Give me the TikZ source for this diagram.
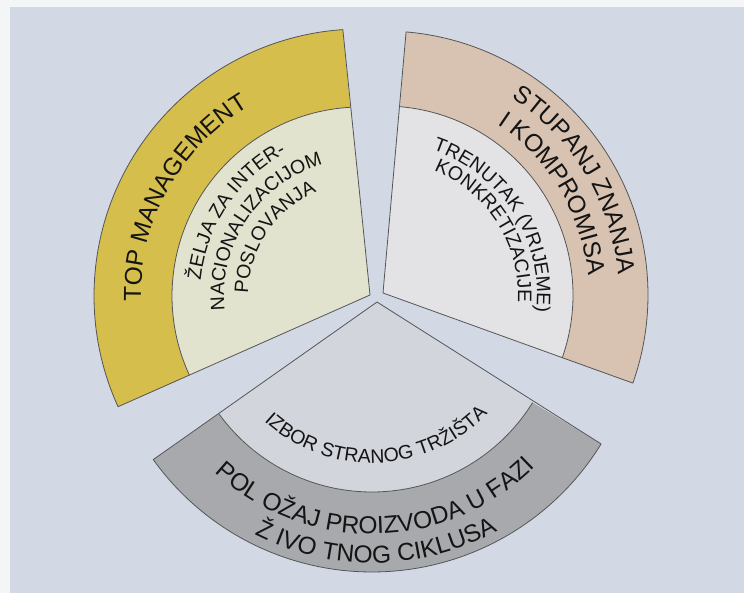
\documentclass[tikz,border=0pt]{standalone}
\usepackage{fontspec}
\setmainfont{Liberation Sans}
\usetikzlibrary{calc,decorations.text}
\definecolor{bgc}{HTML}{D2D9E5}
\definecolor{yband}{HTML}{D5BE4C}
\definecolor{yin}{HTML}{E2E3CE}
\definecolor{bband}{HTML}{D8C3B2}
\definecolor{bin}{HTML}{E3E3E6}
\definecolor{gband}{HTML}{A7A9AD}
\definecolor{gin}{HTML}{D2D5DC}
\definecolor{edgec}{HTML}{555555}
\definecolor{txtc}{HTML}{141414}
\definecolor{stripc}{HTML}{F4F5F7}
\begin{document}
\begin{tikzpicture}[x=1pt,y=1pt,
  outl/.style={draw=edgec,line width=0.8pt,line join=round},
  bandtxt/.style={decorate,decoration={text along path,text align=center,text color=txtc,
     text={|\fontsize{24.5}{29}\selectfont|#1}}},
  innertxt/.style={decorate,decoration={text along path,text align=center,text color=txtc,
     text={|\fontsize{19.5}{23}\selectfont|#1}}}]
\fill[bgc] (0,0) rectangle (744,593);
\fill[stripc] (0,0) rectangle (10,593);
\fill[stripc] (0,586) rectangle (744,593);
\useasboundingbox (0,0) rectangle (744,593);
\coordinate (O1) at (361,297);
\coordinate (A1) at (370,298);
\coordinate (O2) at (384,298);
\coordinate (A2) at (383,300);
\coordinate (O3) at (372,290);
\coordinate (A3) at (377,291);
% yellow sector
\fill[yband] ($(O1)+(93.9:267pt)$) arc[start angle=93.9,end angle=204.5,radius=267pt]
   -- ($(O1)+(204.8:189pt)$) arc[start angle=204.8,end angle=93.3,radius=189pt] -- cycle;
\fill[yin] (A1) -- ($(O1)+(204.8:189pt)$) arc[start angle=204.8,end angle=93.3,radius=189pt] -- cycle;
\draw[outl] (A1) -- ($(O1)+(93.9:267pt)$) arc[start angle=93.9,end angle=204.5,radius=267pt] -- cycle;
\draw[outl] ($(O1)+(204.8:189pt)$) arc[start angle=204.8,end angle=93.3,radius=189pt];
% beige sector
\fill[bband] ($(O2)+(85.2:264pt)$) arc[start angle=85.2,end angle=-19.5,radius=264pt]
   -- ($(O2)+(-19.4:189pt)$) arc[start angle=-19.4,end angle=85.1,radius=189pt] -- cycle;
\fill[bin] (A2) -- ($(O2)+(-19.4:189pt)$) arc[start angle=-19.4,end angle=85.1,radius=189pt] -- cycle;
\draw[outl] (A2) -- ($(O2)+(85.2:264pt)$) arc[start angle=85.2,end angle=-19.5,radius=264pt] -- cycle;
\draw[outl] ($(O2)+(-19.4:189pt)$) arc[start angle=-19.4,end angle=85.1,radius=189pt];
% gray sector
\fill[gband] ($(O3)+(215.6:269pt)$) arc[start angle=215.6,end angle=328.4,radius=269pt]
   -- ($(O3)+(328.2:189pt)$) arc[start angle=328.2,end angle=215.9,radius=189pt] -- cycle;
\fill[gin] (A3) -- ($(O3)+(215.9:189pt)$) arc[start angle=215.9,end angle=328.2,radius=189pt] -- cycle;
\draw[outl] (A3) -- ($(O3)+(215.6:269pt)$) arc[start angle=215.6,end angle=328.4,radius=269pt] -- cycle;
\draw[outl] ($(O3)+(215.9:189pt)$) arc[start angle=215.9,end angle=328.2,radius=189pt];
% texts yellow
\path[bandtxt={TOP MANAGEMENT}] ($(O1)+(206:220pt)$) arc[start angle=206,end angle=96,radius=220pt];
\path[innertxt={ŽELJA ZA INTER-}] ($(O1)+(201:161pt)$) arc[start angle=201,end angle=91,radius=161pt];
\path[innertxt={NACIONALIZACIJOM}] ($(O1)+(201:137pt)$) arc[start angle=201,end angle=91,radius=137pt];
\path[innertxt={POSLOVANJA}] ($(O1)+(201:113pt)$) arc[start angle=201,end angle=91,radius=113pt];
% texts beige
\path[bandtxt={STUPANJ ZNANJA}] ($(O2)+(86:235pt)$) arc[start angle=86,end angle=-24,radius=235pt];
\path[bandtxt={I KOMPROMISA}] ($(O2)+(86:205pt)$) arc[start angle=86,end angle=-24,radius=205pt];
\path[innertxt={TRENUTAK (VRIJEME)}] ($(O2)+(87.5:153pt)$) arc[start angle=87.5,end angle=-22.5,radius=153pt];
\path[innertxt={KONKRETIZACIJE}] ($(O2)+(87.5:134pt)$) arc[start angle=87.5,end angle=-22.5,radius=134pt];
% texts gray
\path[innertxt={IZBOR STRANOG TRŽIŠTA}] ($(O3)+(217:160pt)$) arc[start angle=217,end angle=327,radius=160pt];
\path[bandtxt={POL OŽAJ PROIZVODA U FAZI}] ($(O3)+(216:231pt)$) arc[start angle=216,end angle=326,radius=231pt];
\path[bandtxt={Ž IVO TNOG CIKLUSA}] ($(O3)+(216:260pt)$) arc[start angle=216,end angle=326,radius=260pt];
\end{tikzpicture}
\end{document}
